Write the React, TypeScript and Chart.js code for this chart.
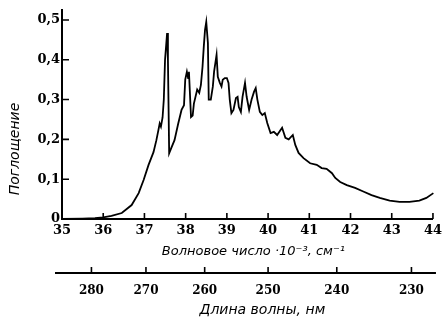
import { useEffect, useRef } from "react";
import { Chart, registerables } from "chart.js";

Chart.register(...registerables);

// Wavenumber, 10^3 cm^-1
const wavenumber = [
  35.0, 35.5, 35.8, 36.0, 36.2, 36.45, 36.69, 36.86, 36.98, 37.1, 37.22, 37.29, 37.34, 37.37, 37.4,
  37.44, 37.47, 37.5, 37.53, 37.55, 37.57, 37.6, 37.65, 37.73, 37.82, 37.9, 37.96, 37.99, 38.03,
  38.06, 38.08, 38.13, 38.17, 38.2, 38.28, 38.33, 38.37, 38.41, 38.44, 38.47, 38.5, 38.54, 38.56,
  38.61, 38.66, 38.69, 38.75, 38.78, 38.83, 38.87, 38.9, 38.95, 39.0, 39.04, 39.07, 39.11, 39.16,
  39.22, 39.26, 39.29, 39.34, 39.38, 39.44, 39.48, 39.54, 39.6, 39.66, 39.7, 39.74, 39.8, 39.86,
  39.92, 39.98, 40.06, 40.14, 40.22, 40.34, 40.42, 40.5, 40.6, 40.66, 40.74, 40.86, 41.02, 41.18,
  41.3, 41.42, 41.55, 41.63, 41.75, 41.91, 42.11, 42.31, 42.51, 42.71, 42.95, 43.19, 43.43, 43.67,
  43.84, 44.01,
];

// Absorbance
const absorbance = [
  0.0, 0.001, 0.002, 0.004, 0.008, 0.015, 0.035, 0.065, 0.098, 0.136, 0.168, 0.198, 0.224, 0.24, 0.232,
  0.255, 0.3, 0.4, 0.44, 0.467, 0.4, 0.165, 0.178, 0.198, 0.24, 0.274, 0.286, 0.35, 0.37,
  0.354, 0.37, 0.256, 0.26, 0.29, 0.325, 0.317, 0.337, 0.383, 0.433, 0.475, 0.495, 0.442, 0.3,
  0.3, 0.333, 0.37, 0.412, 0.357, 0.342, 0.333, 0.35, 0.354, 0.354, 0.342, 0.3, 0.266, 0.274,
  0.304, 0.307, 0.281, 0.269, 0.307, 0.342, 0.307, 0.274, 0.3, 0.32, 0.329, 0.3, 0.269, 0.261,
  0.266, 0.241, 0.216, 0.219, 0.211, 0.229, 0.204, 0.2, 0.211, 0.186, 0.166, 0.153, 0.14, 0.136,
  0.128, 0.126, 0.115, 0.103, 0.093, 0.085, 0.078, 0.069, 0.06, 0.053, 0.046, 0.043, 0.043, 0.046,
  0.053, 0.065,
];

const yTicks = [0, 0.1, 0.2, 0.3, 0.4, 0.5];
const xTicks = [35, 36, 37, 38, 39, 40, 41, 42, 43, 44];
const wavelengthTicks = [280, 270, 260, 250, 240, 230];

const yTitle = "Поглощение";
const xTitle = "Волновое число ·10⁻³, см⁻¹";
const x2Title = "Длина волны, нм";

export default function App() {
  const ref = useRef<HTMLCanvasElement>(null);

  useEffect(() => {
    document.body.style.margin = "0";
    const canvas = ref.current;
    if (!canvas) return;

    const tickFont = { family: "'DejaVu Serif'", size: 13, weight: "bold" as const };

    const decor = {
      id: "decor",
      afterDraw(chart: any) {
        const ctx = chart.ctx as CanvasRenderingContext2D;
        const { x, y, x2 } = chart.scales;
        const area = chart.chartArea;
        ctx.save();
        ctx.strokeStyle = "#000";
        ctx.lineWidth = 1.6;
        ctx.beginPath();
        yTicks.forEach((v) => {
          if (v === 0) return;
          const p = y.getPixelForValue(v);
          ctx.moveTo(area.left, p);
          ctx.lineTo(area.left + 7, p);
        });
        xTicks.forEach((v) => {
          if (v === xTicks[0]) return;
          const p = x.getPixelForValue(v);
          ctx.moveTo(p, area.bottom);
          ctx.lineTo(p, area.bottom - 6);
        });
        wavelengthTicks.forEach((l) => {
          const p = x2.getPixelForValue(1e4 / l);
          ctx.moveTo(p, x2.top + 1);
          ctx.lineTo(p, x2.top - 5);
        });
        ctx.stroke();
        ctx.lineWidth = 2;
        ctx.beginPath();
        ctx.moveTo(area.left - 7, x2.top + 1);
        ctx.lineTo(area.right + 3, x2.top + 1);
        ctx.stroke();

        ctx.fillStyle = "#000";
        ctx.textAlign = "center";
        ctx.textBaseline = "middle";
        const w = area.right - area.left;
        ctx.font = "italic 13px 'DejaVu Sans'";
        ctx.fillText(xTitle, area.left + 0.516 * w, x.top + 33);
        ctx.font = "italic 14px 'DejaVu Sans'";
        ctx.fillText(x2Title, area.left + 0.54 * w, x2.top + 38);
        ctx.save();
        ctx.translate(15, area.top + 0.665 * (area.bottom - area.top));
        ctx.rotate(-Math.PI / 2);
        ctx.font = "italic 14px 'DejaVu Sans'";
        ctx.fillText(yTitle, 0, 0);
        ctx.restore();
        ctx.restore();
      },
    };

    const chart = new Chart(canvas, {
      type: "line",
      data: {
        datasets: [
          {
            data: wavenumber.map((v, i) => ({ x: v, y: absorbance[i] })),
            borderColor: "#000",
            borderWidth: 1.8,
            pointRadius: 0,
            tension: 0,
            fill: false,
            clip: 4,
          },
        ],
      },
      options: {
        animation: false,
        responsive: false,
        layout: { padding: { left: 0, right: 12, top: 10, bottom: 2 } },
        plugins: { legend: { display: false }, tooltip: { enabled: false } },
        scales: {
          x: {
            type: "linear",
            position: "bottom",
            weight: 0,
            min: 35,
            max: 44,
            grid: { display: false, drawTicks: false },
            border: { display: true, color: "#000", width: 2 },
            afterBuildTicks: (s: any) => {
              s.ticks = xTicks.map((v) => ({ value: v }));
            },
            afterFit: (s: any) => {
              s.height = 53;
            },
            ticks: {
              autoSkip: false,
              maxRotation: 0,
              color: "#000",
              padding: 4,
              font: tickFont,
              callback: (v: any) => String(v),
            },
          },
          x2: {
            type: "linear",
            position: "bottom",
            weight: 1,
            min: 35,
            max: 44,
            grid: { display: false, drawTicks: false },
            border: { display: false },
            afterBuildTicks: (s: any) => {
              s.ticks = wavelengthTicks.map((l) => ({ value: 1e4 / l }));
            },
            afterFit: (s: any) => {
              s.height = 46;
            },
            ticks: {
              autoSkip: false,
              maxRotation: 0,
              color: "#000",
              padding: 12,
              font: { family: "'DejaVu Serif'", size: 12, weight: "bold" as const },
              callback: (_v: any, i: number) => String(wavelengthTicks[i]),
            },
          },
          y: {
            type: "linear",
            min: 0,
            max: 0.525,
            grid: { display: false, drawTicks: false },
            border: { display: true, color: "#000", width: 2 },
            afterBuildTicks: (s: any) => {
              s.ticks = yTicks.map((v) => ({ value: v }));
            },
            afterFit: (s: any) => {
              s.width = 62;
            },
            ticks: {
              color: "#000",
              padding: 2,
              font: tickFont,
              callback: (v: any) => String(v).replace(".", ","),
            },
          },
        },
      },
      plugins: [decor],
    });

    return () => chart.destroy();
  }, []);

  return <canvas ref={ref} width={446} height={320} style={{ display: "block" }} />;
}
